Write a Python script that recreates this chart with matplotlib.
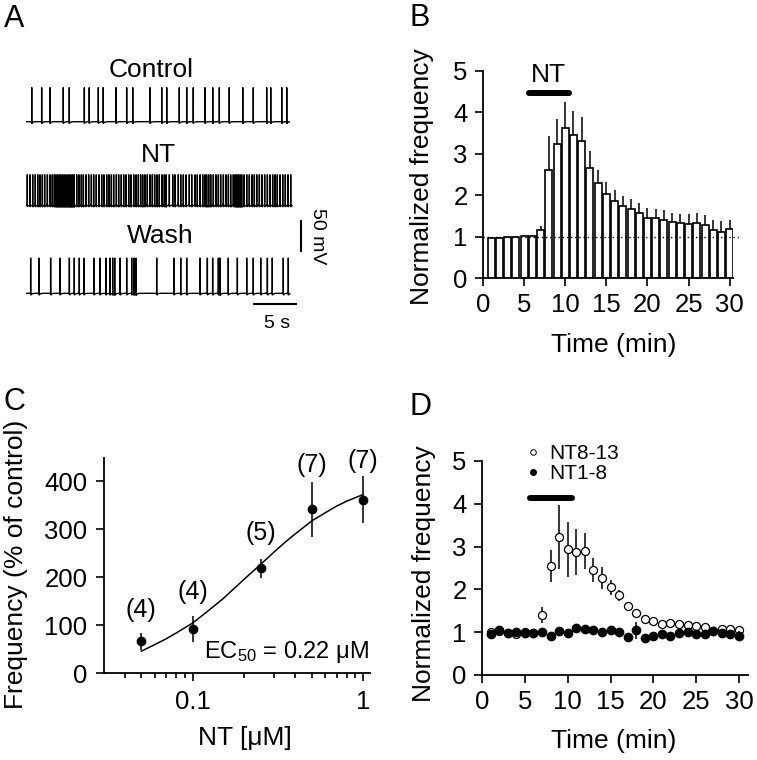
import numpy as np
import matplotlib
matplotlib.use("Agg")
import matplotlib.pyplot as plt
from matplotlib.lines import Line2D
from matplotlib.ticker import LogLocator, NullFormatter

plt.rcParams['font.family'] = ['Liberation Sans', 'DejaVu Sans']
plt.rcParams['mathtext.fontset'] = 'custom'
plt.rcParams['mathtext.rm'] = 'Liberation Sans'
plt.rcParams['mathtext.it'] = 'Liberation Sans:italic'
plt.rcParams['axes.linewidth'] = 1.3

# ---------------- Panel A data (spike times, s) ----------------
control_spikes = [0.57, 1.70, 2.65, 4.16, 4.84, 6.55, 7.11, 8.14, 8.70, 10.15, 11.36,
                  12.05, 14.01, 15.34, 15.91, 17.34, 18.18, 18.93, 20.26, 21.14, 21.89,
                  23.02, 24.55, 25.75, 27.27, 27.73, 28.98, 29.55]
nt_spikes = [0.07, 0.38, 0.68, 0.98, 1.25, 1.51, 1.78, 2.04, 2.35, 2.65, 2.91, 3.14,
             3.33, 3.52, 3.71, 3.90, 4.09, 4.28, 4.47, 4.66, 4.85, 5.03, 5.22, 5.41,
             5.68, 5.94, 6.21, 6.44, 6.74, 7.04, 7.35, 7.61, 7.91, 8.22, 8.52, 8.78,
             9.09, 9.35, 9.62, 9.88, 10.19, 10.45, 10.75, 11.02, 11.28, 11.59, 11.85,
             12.16, 12.42, 12.69, 12.95, 13.18, 13.44, 13.71, 14.01, 14.28, 14.54,
             14.81, 15.07, 15.38, 15.64, 15.83, 16.21, 16.59, 16.86, 17.23, 17.50,
             17.80, 18.11, 18.48, 18.75, 19.13, 19.39, 19.70, 20.00, 20.26, 20.45,
             20.68, 20.91, 21.21, 21.51, 21.78, 22.04, 22.35, 22.65, 22.92, 23.18,
             23.48, 23.67, 23.86, 24.05, 24.24, 24.43, 24.70, 25.00, 25.30, 25.61,
             25.87, 26.14, 26.44, 26.74, 27.04, 27.35, 27.65, 27.95, 28.22, 28.48,
             28.79, 29.09, 29.39, 29.70, 30.00]
wash_spikes = [0.45, 1.40, 2.72, 3.78, 4.85, 5.41, 5.98, 6.51, 7.65, 8.33, 9.01, 9.47,
               9.77, 10.00, 10.60, 11.36, 11.93, 12.19, 12.42, 14.77, 16.74, 17.50,
               18.18, 19.69, 20.53, 21.13, 21.78, 21.97, 22.91, 23.94, 25.00, 25.75,
               26.59, 27.35, 27.91, 29.16, 29.73]
trace_names = ['Control', 'NT', 'Wash']
spike_amp_mv = [54, 48, 56]
trace_len_s = [29.85, 30.15, 29.9]

# ---------------- Panel B data ----------------
time_min = list(range(1, 31))
b_freq = [0.97, 0.97, 0.98, 0.99, 1.01, 1.02, 1.16, 2.61, 3.24, 3.62, 3.46, 3.30,
          2.66, 2.29, 2.03, 1.87, 1.73, 1.67, 1.56, 1.46, 1.45, 1.41, 1.35, 1.32,
          1.31, 1.33, 1.28, 1.16, 1.12, 1.18]
b_err = [0.02, 0.02, 0.02, 0.02, 0.02, 0.02, 0.09, 0.82, 0.60, 0.62, 0.58, 0.58,
         0.41, 0.32, 0.29, 0.26, 0.26, 0.24, 0.26, 0.24, 0.22, 0.23, 0.23, 0.22,
         0.23, 0.25, 0.25, 0.24, 0.26, 0.22]

# ---------------- Panel C data ----------------
conc = [0.05, 0.1, 0.25, 0.5, 1.0]
c_freq = [67, 92, 219, 342, 362]
c_err = [18, 27, 20, 57, 49]
c_n = [4, 4, 5, 7, 7]
fit_conc = [0.05, 0.06, 0.07, 0.08, 0.1, 0.12, 0.15, 0.2, 0.25, 0.3, 0.35, 0.4,
            0.5, 0.6, 0.7, 0.8, 1.0]
fit_freq = [46, 60, 72, 84, 105, 127, 155, 196, 227, 253, 274, 291, 318, 335, 349,
            359, 373]
ec50_text = r'EC$_{50}$ = 0.22 μM'

# ---------------- Panel D data ----------------
d_nt813 = [1.00, 1.02, 0.98, 0.95, 1.00, 0.98, 1.40, 2.55, 3.22, 2.94, 2.87, 2.90,
           2.45, 2.26, 2.05, 1.86, 1.61, 1.46, 1.32, 1.26, 1.20, 1.22, 1.18, 1.17,
           1.14, 1.11, 1.02, 1.08, 1.07, 1.04]
d_nt813_err = [0.05, 0.05, 0.05, 0.05, 0.05, 0.05, 0.18, 0.37, 0.75, 0.64, 0.53, 0.42,
               0.28, 0.26, 0.18, 0.13, 0.08, 0.07, 0.08, 0.07, 0.06, 0.06, 0.06, 0.05,
               0.05, 0.05, 0.05, 0.05, 0.05, 0.05]
d_nt18 = [0.95, 1.05, 0.97, 1.01, 0.99, 0.97, 1.00, 0.92, 1.03, 0.97, 1.10, 1.07,
          1.04, 1.01, 1.04, 1.01, 0.89, 1.05, 0.87, 0.92, 0.95, 0.92, 0.99, 1.00,
          0.96, 0.96, 1.03, 0.99, 0.95, 0.91]
d_nt18_err = [0.06, 0.06, 0.06, 0.06, 0.06, 0.06, 0.06, 0.06, 0.06, 0.06, 0.06, 0.06,
              0.06, 0.06, 0.06, 0.06, 0.08, 0.20, 0.08, 0.06, 0.06, 0.06, 0.06, 0.06,
              0.06, 0.06, 0.06, 0.06, 0.06, 0.12]
nt_period = (5.6, 10.5)

W, H = 757, 760
fig = plt.figure(figsize=(W / 100, H / 100), dpi=100)


def fx(px):
    return px / W


def fy(py):
    return 1 - py / H


TICK = 18.5
LAB = 19

# ================= Panel A =================
axA = fig.add_axes([0, 0.5, 378 / W, 0.5])
px_per_s = 8.8
px_per_mv = 0.634
x0_px, base_px = 26.7, 121.7
axA.set_xlim(-x0_px / px_per_s, (378 - x0_px) / px_per_s)
axA.set_ylim((base_px - 380) / px_per_mv, base_px / px_per_mv)
axA.axis('off')

offsets = [0, (base_px - 205.0) / px_per_mv, (base_px - 293.3) / px_per_mv]
label_pos = [(14.13, 70.0), (14.95, -63.1), (15.15, -191.8)]
dt = 0.001
for spikes, amp, off, dur, name, lp in zip([control_spikes, nt_spikes, wash_spikes],
                                           spike_amp_mv, offsets, trace_len_s,
                                           trace_names, label_pos):
    t = np.arange(0, dur, dt)
    v = np.zeros_like(t)
    for ts in spikes:
        m = t > ts
        v[m] -= 3.0 * np.exp(-(t[m] - ts) / 0.12)
    for ts in spikes:
        i = int(round(ts / dt))
        if 0 <= i < len(v):
            v[i] = amp
    axA.plot(t, v + off, color='black', lw=1.0, solid_joinstyle='miter')
    axA.text(lp[0], lp[1], name, ha='center', va='baseline', fontsize=19)

# scale bars
axA.plot([31.14, 31.14], [-155, -205], color='black', lw=1.5, solid_capstyle='butt')
axA.plot([25.68, 30.68], [-288, -288], color='black', lw=1.5, solid_capstyle='butt')
axA.text(28.5, -325.9, '5 s', ha='center', va='baseline', fontsize=14)
axA.text(33.04, -180, '50 mV', ha='center', va='center', rotation=270, fontsize=14)


def style_axes(ax):
    for s in ['top', 'right']:
        ax.spines[s].set_visible(False)
    ax.tick_params(direction='out', length=6, width=1.2, labelsize=TICK, pad=5)


# ================= Panel B =================
axB = fig.add_axes([fx(483), fy(278), 250 / W, 207 / H])
style_axes(axB)
axB.bar(time_min, b_freq, width=0.85, color='white', edgecolor='black', linewidth=1.2,
        zorder=2)
axB.errorbar(time_min, b_freq, yerr=[np.zeros(len(b_err)), b_err], fmt='none',
             ecolor='black', elinewidth=1.1, capsize=0, zorder=3)
axB.plot([0, 31.4], [1, 1], color='black', lw=1.0, ls=(0, (1, 2)), clip_on=False,
         zorder=4)
axB.plot(nt_period, [4.48, 4.48], color='black', lw=4.3, solid_capstyle='round',
         clip_on=False)
axB.text(np.mean(nt_period) - 0.1, 4.9, 'NT', ha='center', va='center', fontsize=19)
axB.set_xlim(0, 30.4)
axB.set_ylim(0, 5)
axB.set_xticks(range(0, 31, 5))
axB.set_yticks(range(0, 6))
axB.set_xlabel('Time (min)', fontsize=LAB)
axB.set_ylabel('Normalized frequency', fontsize=LAB)
axB.xaxis.label.set_va('center')
axB.yaxis.label.set_va('center')
axB.xaxis.set_label_coords(0.521, -0.326)
axB.yaxis.set_label_coords(-0.242, 0.489)

# ================= Panel C =================
axC = fig.add_axes([fx(104), fy(673.3), 266 / W, 215.3 / H])
style_axes(axC)
axC.set_xscale('log')
axC.plot(fit_conc, fit_freq, color='black', lw=1.1)
axC.errorbar(conc, c_freq, yerr=c_err, fmt='o', color='black', ms=6, elinewidth=1.1,
             capsize=0)
n_label_y = [132, 170, 293, 435, 442]
for xc, n, ly in zip(conc, c_n, n_label_y):
    axC.text(xc, ly, f'({n})', ha='center', va='center', fontsize=18, clip_on=False)
axC.text(1.085, 31, ec50_text, ha='right', va='baseline', fontsize=17)
axC.set_xlim(0.0302, 1.095)
axC.set_ylim(0, 449)
axC.set_yticks([0, 100, 200, 300, 400])
axC.set_xticks([0.1, 1])
axC.set_xticklabels(['0.1', '1'])
axC.xaxis.set_minor_locator(LogLocator(base=10, subs=np.arange(2, 10)))
axC.xaxis.set_minor_formatter(NullFormatter())
axC.tick_params(axis='x', which='minor', direction='out', length=3.5, width=1.2)
axC.tick_params(axis='x', which='major', length=6, pad=6)
axC.tick_params(axis='y', pad=6)
axC.set_xlabel('NT [μM]', fontsize=LAB)
axC.set_ylabel('Frequency (% of control)', fontsize=LAB)
axC.xaxis.label.set_va('center')
axC.yaxis.label.set_va('center')
axC.xaxis.set_label_coords(0.53, -0.30)
axC.yaxis.set_label_coords(-0.332, 0.508)

# ================= Panel D =================
axD = fig.add_axes([fx(482), fy(675), 266 / W, 214 / H])
style_axes(axD)
axD.errorbar(time_min, d_nt813, yerr=d_nt813_err, fmt='o', mfc='white', mec='black',
             mew=0.9, ms=5.8, ecolor='black', elinewidth=1.1, capsize=0, zorder=2)
axD.errorbar(time_min, d_nt18, yerr=d_nt18_err, fmt='o', mfc='black', mec='black',
             ms=6, ecolor='black', elinewidth=1.1, capsize=0, zorder=3)
axD.plot(nt_period, [4.14, 4.14], color='black', lw=4.3, solid_capstyle='round',
         clip_on=False)
handles = [Line2D([], [], ls='none', marker='o', mfc='white', mec='black', mew=0.7,
                  ms=4),
           Line2D([], [], ls='none', marker='o', mfc='black', mec='black', ms=4)]
axD.legend(handles, ['NT8-13', 'NT1-8'], loc='upper left',
           bbox_to_anchor=(0.162, 1.079), frameon=False, fontsize=15,
           handlelength=0.8, handletextpad=0.35, borderpad=0, borderaxespad=0,
           labelspacing=0.05)
axD.set_xlim(0, 31.05)
axD.set_ylim(0, 5)
axD.set_xticks(range(0, 31, 5))
axD.set_yticks(range(0, 6))
axD.set_xlabel('Time (min)', fontsize=LAB)
axD.set_ylabel('Normalized frequency', fontsize=LAB)
axD.xaxis.label.set_va('center')
axD.yaxis.label.set_va('center')
axD.xaxis.set_label_coords(0.496, -0.308)
axD.yaxis.set_label_coords(-0.218, 0.472)

# panel letters
fig.text(fx(4), fy(26.7), 'A', fontsize=22, ha='left', va='baseline')
fig.text(fx(409), fy(26), 'B', fontsize=22, ha='left', va='baseline')
fig.text(fx(3.5), fy(409.5), 'C', fontsize=22, ha='left', va='baseline')
fig.text(fx(409), fy(415), 'D', fontsize=22, ha='left', va='baseline')

fig.savefig('out.png', dpi=100)
